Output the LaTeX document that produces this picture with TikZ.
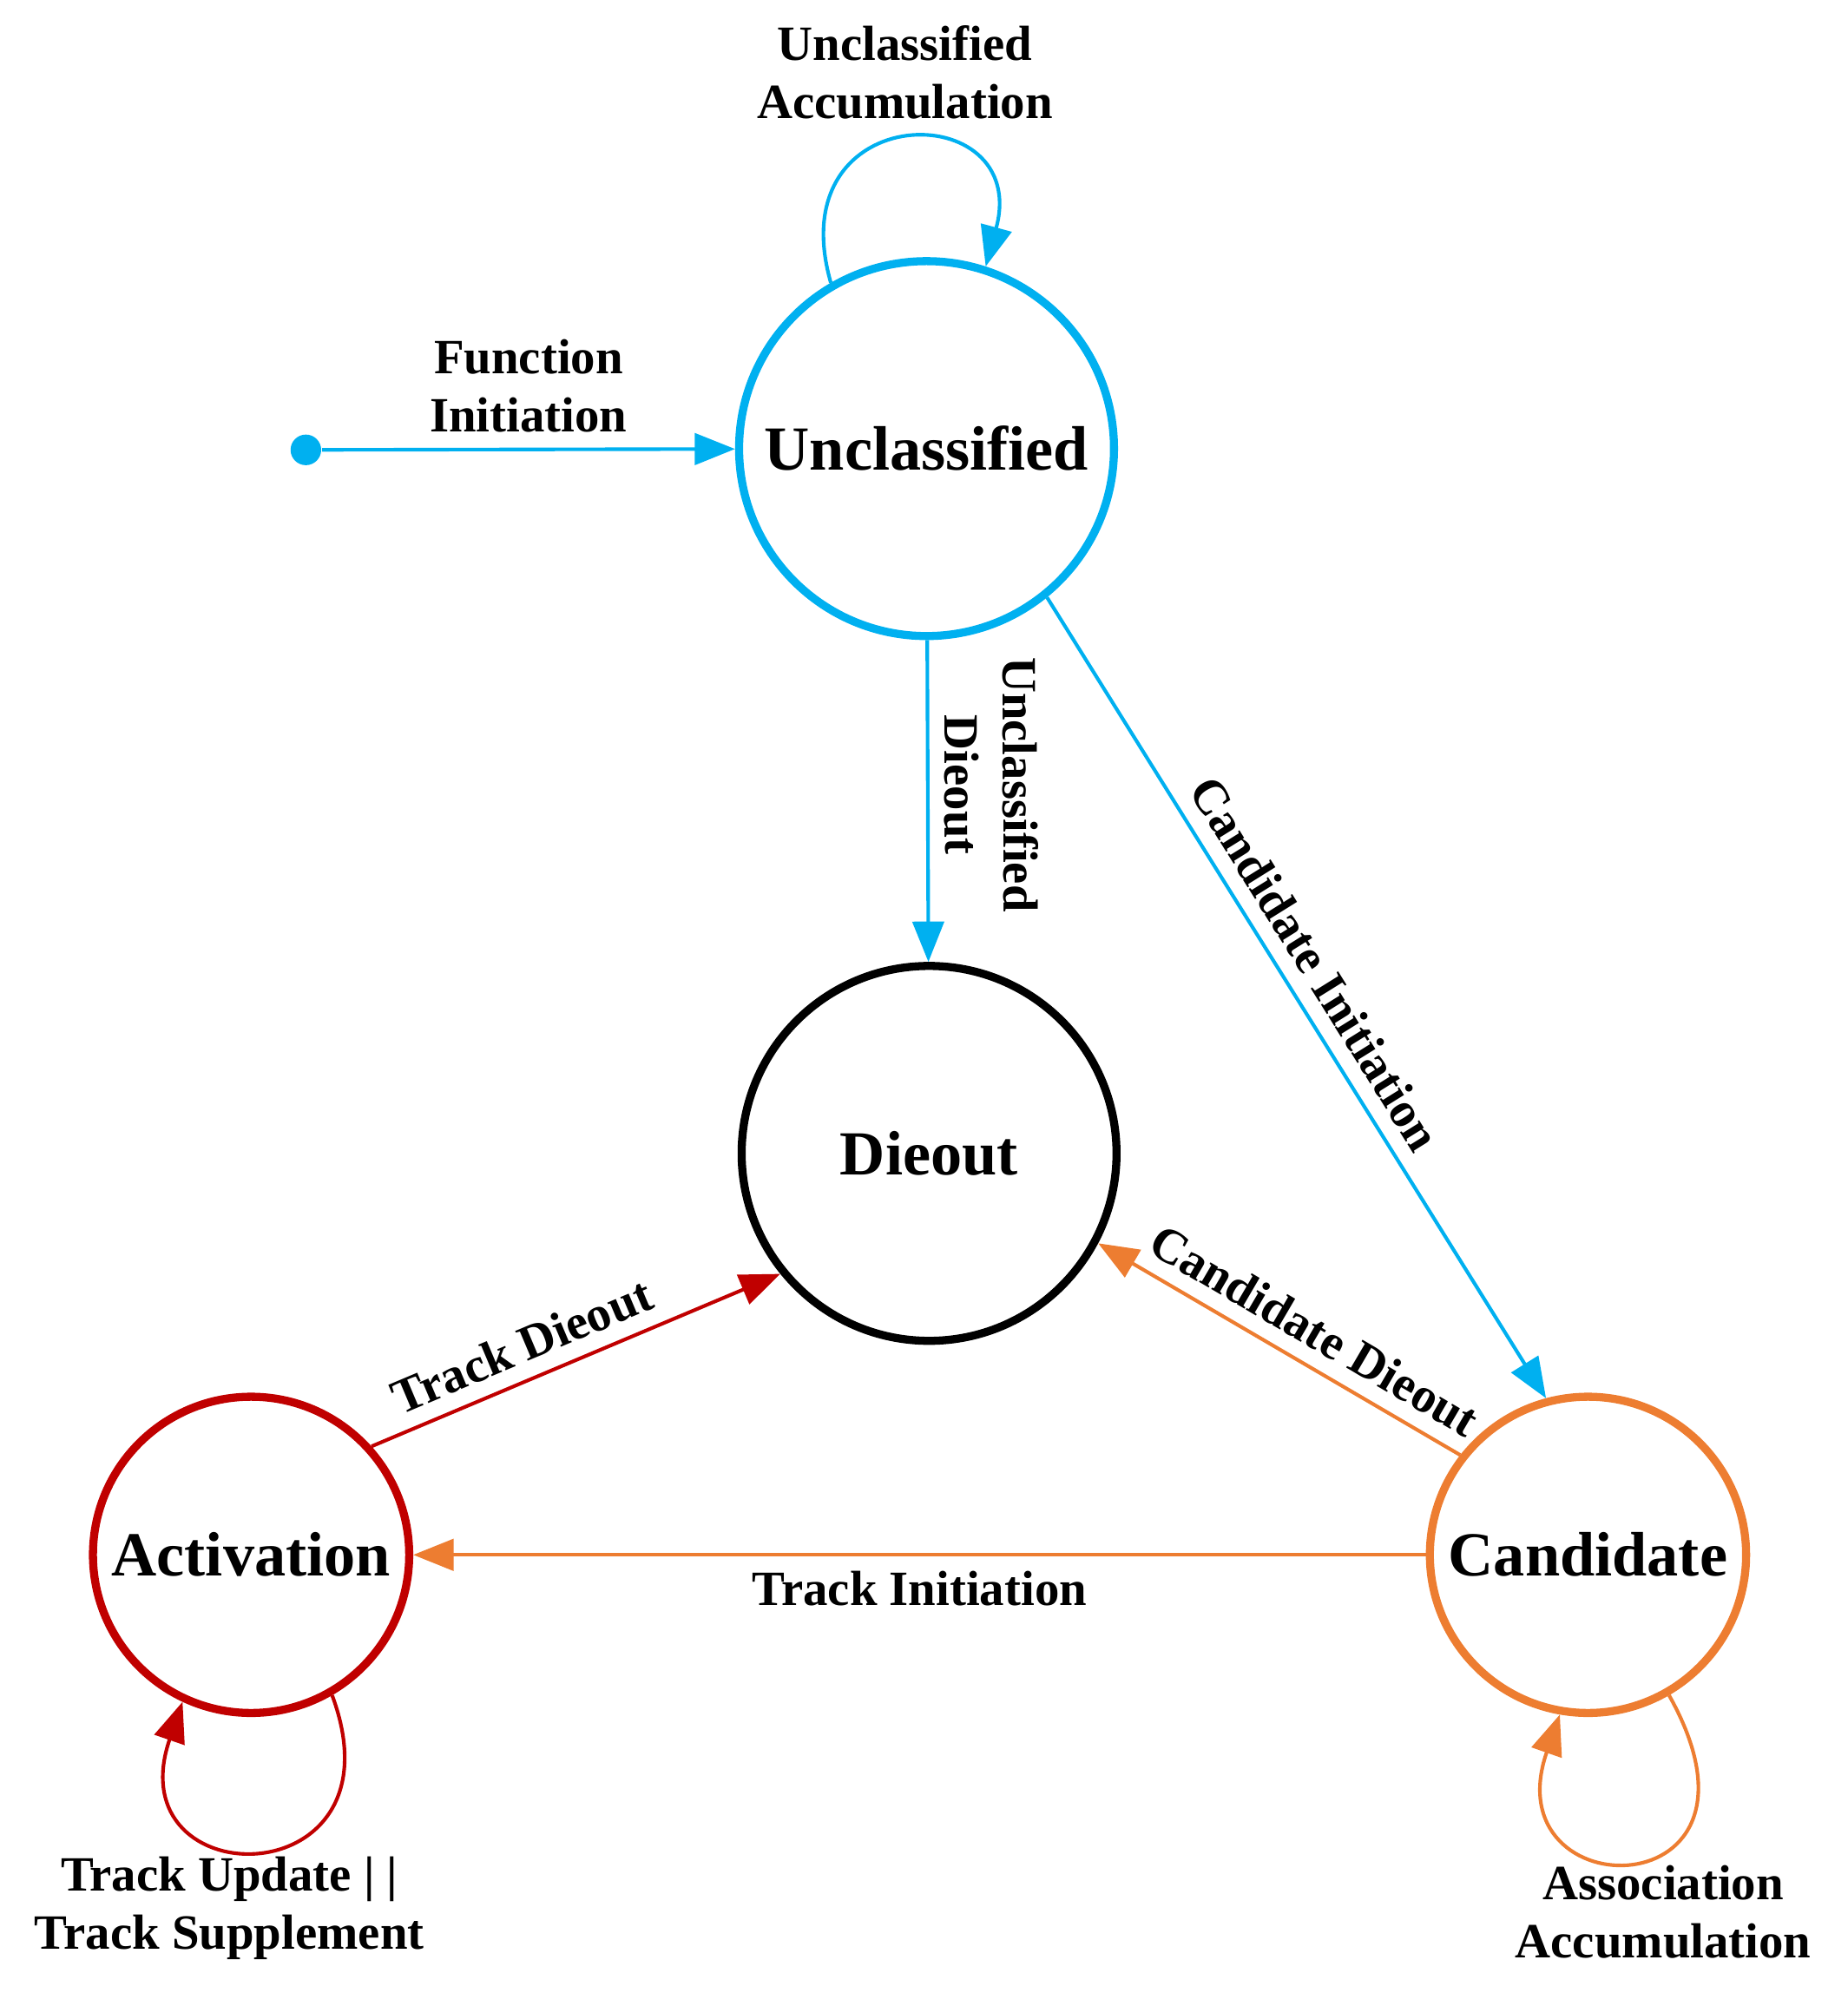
\documentclass[tikz,border=0pt]{standalone}
\usepackage{fontspec}
\setmainfont{Liberation Serif}
\usetikzlibrary{arrows.meta}
\definecolor{cblue}{RGB}{0,176,240}
\definecolor{cred}{RGB}{192,0,0}
\definecolor{corange}{RGB}{237,125,49}
\begin{document}
\begin{tikzpicture}[x=0.01cm,y=-0.01cm,
  state/.style={circle,line width=1.8pt,inner sep=0pt,font=\fontsize{14}{16}\selectfont\bfseries},
  big/.style={state,minimum size=2.94cm},
  small/.style={state,minimum size=2.48cm},
  edge/.style={line width=0.8pt,-{Triangle[length=9pt,width=7pt]}},
  lab/.style={font=\fontsize{11}{13}\selectfont\bfseries,align=center,text=black}]
\useasboundingbox (0,0) rectangle (1450,1574);
\node[big,draw=cblue] (u) at (727,352) {Unclassified};
\node[big,draw=black] (d) at (729,905) {Dieout};
\node[small,draw=cred] (a) at (197,1220) {Activation};
\node[small,draw=corange] (c) at (1246,1220) {Candidate};
\node[circle,fill=cblue,minimum size=0.24cm,inner sep=0pt] (s) at (240,353) {};
\draw[edge,cblue] (s) -- node[lab,above]{Function\\Initiation} (u);
\draw[edge,cblue] (u.120) .. controls (610,75) and (810,75) .. (u.72);
\node[lab] (l1) at (710,57) {Unclassified\\Accumulation};
\draw[edge,cblue] (u) -- node[lab,sloped,above,pos=0.45]{Unclassified\\Dieout} (d);
\draw[edge,cblue] (u.-51) -- node[lab,sloped,above,pos=0.48]{Candidate Initiation} (c.105);
\draw[edge,corange] (c.142) -- node[lab,sloped,above,pos=0.45]{Candidate Dieout} (d.-28);
\draw[edge,cred] (a.42) -- node[lab,sloped,above,pos=0.4]{Track Dieout} (d.-141);
\draw[edge,corange] (c) -- node[lab,below]{Track Initiation} (a);
\draw[edge,cred] (a.-60) .. controls (320,1490) and (90,1490) .. (a.-115);
\node[lab] (l2) at (180,1497) {Track Update | |\\Track Supplement};
\draw[edge,corange] (c.-60) .. controls (1405,1500) and (1170,1500) .. (c.-100);
\node[lab] (l3) at (1305,1500) {Association\\Accumulation};
\end{tikzpicture}
\end{document}
